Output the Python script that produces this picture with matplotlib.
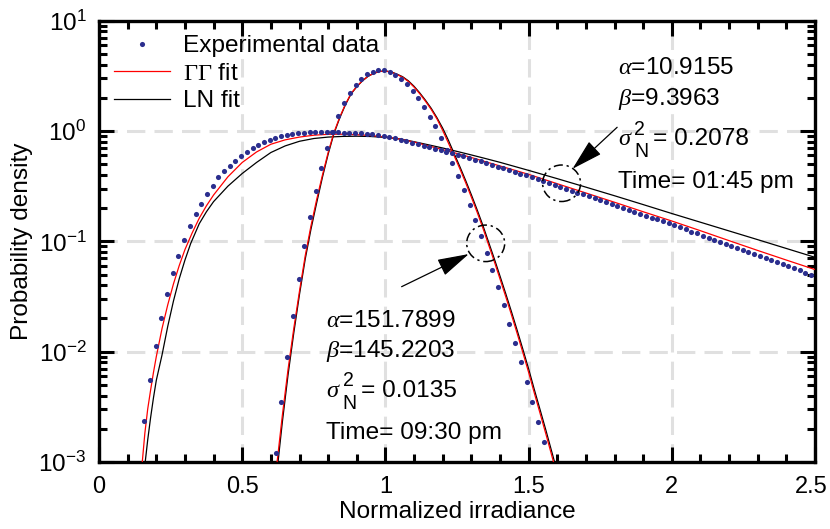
import numpy as np
import matplotlib

matplotlib.use("Agg")
import matplotlib.pyplot as plt
from matplotlib import transforms
from matplotlib.patches import Ellipse
from matplotlib.ticker import FuncFormatter, MultipleLocator, LogLocator

# ---- data (log10 of probability density) ----
BIN_WIDTH = 0.0199

# 01:45 pm measurement (alpha=10.9155, beta=9.3963)
broad_x0 = 0.158
broad_dots_log = [
    -2.63, -2.26, -1.95, -1.695, -1.48, -1.29, -1.13, -0.985, -0.86, -0.755,
    -0.66, -0.575, -0.50, -0.42, -0.365, -0.315, -0.27, -0.225, -0.19, -0.158,
    -0.13, -0.104, -0.082, -0.062, -0.047, -0.035, -0.026, -0.020, -0.015, -0.012,
    -0.010, -0.009, -0.009, -0.011, -0.013, -0.015, -0.017, -0.019, -0.021, -0.024,
    -0.030, -0.037, -0.045, -0.056, -0.067, -0.079, -0.092, -0.106, -0.120, -0.134,
    -0.148, -0.160, -0.172, -0.186, -0.200, -0.215, -0.230, -0.245, -0.261, -0.276,
    -0.291, -0.307, -0.323, -0.339, -0.355, -0.370, -0.386, -0.401, -0.418, -0.436,
    -0.453, -0.471, -0.488, -0.505, -0.523, -0.540, -0.558, -0.575, -0.592, -0.610,
    -0.627, -0.645, -0.662, -0.679, -0.697, -0.714, -0.732, -0.749, -0.766, -0.784,
    -0.801, -0.819, -0.836, -0.855, -0.873, -0.892, -0.911, -0.929, -0.948, -0.966,
    -0.985, -1.004, -1.022, -1.041, -1.060, -1.078, -1.097, -1.115, -1.134, -1.153,
    -1.171, -1.190, -1.208, -1.227, -1.246, -1.264, -1.283, -1.301,
]

broad_gg_x = [0.15, 0.16, 0.17, 0.18, 0.19, 0.20, 0.22, 0.24, 0.26, 0.28, 0.30,
              0.325, 0.35, 0.375, 0.40, 0.45, 0.50, 0.55, 0.60, 0.65, 0.70, 0.75, 0.80, 0.85,
              0.90, 0.95, 1.00, 1.05, 1.10, 1.15, 1.20, 1.25, 1.30, 1.35, 1.40,
              1.50, 1.60, 1.70, 1.80, 1.90, 2.00, 2.10, 2.20, 2.30, 2.40, 2.50]
broad_gg_log = [-3.03, -2.74, -2.52, -2.35, -2.19, -2.045, -1.79, -1.575, -1.385, -1.22, -1.075,
                -0.925, -0.79, -0.678, -0.58, -0.415, -0.285, -0.190, -0.120, -0.080, -0.055, -0.038,
                -0.030, -0.029,
                -0.033, -0.041, -0.054, -0.073, -0.100, -0.135, -0.169, -0.204, -0.240, -0.279, -0.317,
                -0.393, -0.478, -0.562, -0.646, -0.732, -0.816, -0.904, -0.994, -1.083, -1.170, -1.256]

broad_ln_x = [0.16, 0.17, 0.18, 0.19, 0.20, 0.22, 0.24, 0.26, 0.28, 0.30, 0.32,
              0.35, 0.375, 0.40, 0.45, 0.50, 0.55, 0.60, 0.65, 0.70, 0.75, 0.80, 0.85,
              0.90, 0.95, 1.00, 1.05, 1.10, 1.15, 1.20, 1.25, 1.30, 1.35, 1.40,
              1.50, 1.60, 1.70, 1.80, 1.90, 2.00, 2.10, 2.20, 2.30, 2.40, 2.50]
broad_ln_log = [-3.03, -2.80, -2.60, -2.42, -2.26, -2.03, -1.77, -1.54, -1.34, -1.17, -1.02,
                -0.84, -0.732, -0.64, -0.50, -0.385, -0.285, -0.195, -0.135, -0.093, -0.068, -0.055,
                -0.049,
                -0.047, -0.050, -0.058, -0.072, -0.097, -0.125, -0.154, -0.185, -0.217, -0.250, -0.284,
                -0.357, -0.432, -0.509, -0.587, -0.667, -0.748, -0.827, -0.906, -0.985, -1.065, -1.145]

# 09:30 pm measurement (alpha=151.7899, beta=145.2203)
narrow_x0 = 0.617
narrow_dots_log = [
    -2.92, -2.46, -2.05, -1.675, -1.34, -1.04, -0.78, -0.54, -0.338, -0.154,
    -0.006, 0.136, 0.251, 0.342, 0.417, 0.471, 0.514, 0.538, 0.553, 0.556,
    0.538, 0.511, 0.471, 0.423, 0.363, 0.296, 0.215, 0.130, 0.045, -0.061,
    -0.172, -0.287, -0.410, -0.538, -0.672, -0.807, -0.955, -1.102, -1.260, -1.417,
    -1.580, -1.747, -1.919, -2.094, -2.273, -2.454, -2.636, -2.822,
]

narrow_fit_x = [0.62, 0.64, 0.66, 0.68, 0.70, 0.72, 0.74, 0.76, 0.78, 0.80,
                0.82, 0.84, 0.86, 0.88, 0.90, 0.92, 0.94, 0.96, 0.98, 1.00,
                1.02, 1.04, 1.06, 1.08, 1.10, 1.12, 1.14, 1.16, 1.18, 1.20,
                1.22, 1.24, 1.26, 1.28, 1.30, 1.32, 1.34, 1.36, 1.38, 1.40,
                1.42, 1.44, 1.46, 1.48, 1.50, 1.52, 1.54, 1.56, 1.58, 1.60]
narrow_gg_log = [-3.04, -2.58, -2.16, -1.79, -1.45, -1.13, -0.86, -0.62, -0.40, -0.195,
                 -0.015, 0.122, 0.241, 0.340, 0.404, 0.457, 0.498, 0.524, 0.540, 0.543,
                 0.535, 0.513, 0.487, 0.449, 0.398, 0.337, 0.269, 0.195, 0.109, 0.005,
                 -0.110, -0.225, -0.343, -0.468, -0.599, -0.735, -0.877, -1.030, -1.182, -1.341,
                 -1.501, -1.666, -1.836, -2.010, -2.188, -2.377, -2.560, -2.745, -2.935, -3.13]
narrow_ln_log = [-3.12, -2.64, -2.21, -1.83, -1.48, -1.16, -0.89, -0.65, -0.42, -0.21,
                 -0.025, 0.115, 0.236, 0.336, 0.402, 0.455, 0.497, 0.523, 0.540, 0.544,
                 0.536, 0.516, 0.492, 0.455, 0.405, 0.345, 0.278, 0.205, 0.120, 0.025,
                 -0.085, -0.205, -0.324, -0.448, -0.578, -0.713, -0.854, -1.006, -1.157, -1.315,
                 -1.474, -1.638, -1.807, -1.980, -2.157, -2.345, -2.527, -2.710, -2.90, -3.09]

x_ticks = [0, 0.5, 1, 1.5, 2, 2.5]

day_params = [r"$\mathit{\alpha}$=10.9155", r"$\mathit{\beta}$=9.3963", "= 0.2078", "Time= 01:45 pm"]
night_params = [r"$\mathit{\alpha}$=151.7899", r"$\mathit{\beta}$=145.2203", "= 0.0135", "Time= 09:30 pm"]

DOT_COLOR = "#2b2e8e"
FS = 17.6

plt.rcParams.update({
    "font.family": ["Liberation Sans", "DejaVu Sans"],
    "font.size": FS,
    "mathtext.fontset": "custom",
    "mathtext.rm": "Liberation Serif",
    "mathtext.it": "Liberation Serif:italic",
    "mathtext.sf": "Liberation Sans",
    "mathtext.default": "regular",
})


def param_block(ax, x, baselines, lines):
    ax.text(x, baselines[0], lines[0], ha="left", va="baseline")
    ax.text(x, baselines[1], lines[1], ha="left", va="baseline")
    # sigma^2_N drawn piece by piece so the indices stay large like the original
    y = baselines[2]
    ax.text(x, y, r"$\mathit{\sigma}$", ha="left", va="baseline")
    ax.annotate("2", (x, y), xytext=(12.0, 7.5), textcoords="offset points",
                ha="left", va="baseline", fontsize=FS * 0.8)
    ax.annotate("N", (x, y), xytext=(12.0, -8.8), textcoords="offset points",
                ha="left", va="baseline", fontsize=FS * 0.8)
    ax.annotate(lines[2], (x, y), xytext=(25.5, 0), textcoords="offset points",
                ha="left", va="baseline")
    ax.text(x, baselines[3], lines[3], ha="left", va="baseline")


def main() -> None:
    fig = plt.figure(figsize=(8.3, 5.29), dpi=100)
    ax = fig.add_axes([0.1193, 0.1267, 0.8627, 0.8342])
    ax.set_yscale("log")

    bx = broad_x0 + BIN_WIDTH * np.arange(len(broad_dots_log))
    nx = narrow_x0 + BIN_WIDTH * np.arange(len(narrow_dots_log))

    ax.plot(bx, 10 ** np.array(broad_dots_log), "o", ms=3.7, mew=0, color=DOT_COLOR,
            zorder=4, label="Experimental data")
    ax.plot(broad_gg_x, 10 ** np.array(broad_gg_log), color="red", lw=0.9, zorder=3,
            label=r"$\mathrm{\Gamma\Gamma}$ fit")
    ax.plot(broad_ln_x, 10 ** np.array(broad_ln_log), color="black", lw=0.9, zorder=2,
            label="LN fit")
    ax.plot(nx, 10 ** np.array(narrow_dots_log), "o", ms=3.7, mew=0, color=DOT_COLOR, zorder=4)
    ax.plot(narrow_fit_x, 10 ** np.array(narrow_ln_log), color="black", lw=0.9, zorder=2)
    ax.plot(narrow_fit_x, 10 ** np.array(narrow_gg_log), color="red", lw=0.9, zorder=3)

    ax.set_xlim(0, 2.5)
    ax.set_ylim(1e-3, 1e1)
    ax.set_xticks(x_ticks)
    ax.xaxis.set_minor_locator(MultipleLocator(0.1))
    ax.xaxis.set_major_formatter(FuncFormatter(lambda v, _: f"{v:g}"))
    ax.yaxis.set_major_locator(LogLocator(base=10, numticks=10))
    ax.yaxis.set_minor_locator(LogLocator(base=10, subs=np.arange(2, 10), numticks=20))

    ax.tick_params(which="both", direction="in", top=True, right=True, width=2.2)
    ax.tick_params(which="major", length=11)
    ax.tick_params(axis="x", which="major", pad=10, labelsize=17)
    ax.tick_params(axis="y", which="major", pad=9)
    ax.tick_params(which="minor", length=5.5)
    for sp in ax.spines.values():
        sp.set_linewidth(2.4)

    # keep the last x label inside the canvas
    last = ax.xaxis.get_major_ticks()[-1].label1
    last.set_transform(last.get_transform()
                       + transforms.ScaledTranslation(-3 / 72, 0, fig.dpi_scale_trans))

    ax.set_axisbelow(True)
    ax.grid(True, which="major", color="#e0e0e0", linewidth=2.2, linestyle=(0, (6, 3)))

    ax.set_xlabel("Normalized irradiance", labelpad=2)
    ax.set_ylabel("Probability density", labelpad=4)

    ax.legend(loc="upper left", frameon=False, numpoints=1, handlelength=2.3,
              handletextpad=0.55, labelspacing=0.22, borderaxespad=0.2, borderpad=0.4)

    param_block(ax, 1.811, [3.29, 1.72, 0.746, 0.306], day_params)
    param_block(ax, 0.792, [0.01683, 0.00887, 0.0039, 0.0016], night_params)

    # dash-dot circles around highlighted points
    for cx, cy in [(1.615, 0.336), (1.350, 0.0959)]:
        trans = fig.dpi_scale_trans + transforms.ScaledTranslation(cx, cy, ax.transData)
        ax.add_patch(Ellipse((0, 0), 0.38, 0.365, transform=trans, fill=False,
                             edgecolor="black", lw=1.1, linestyle=(0, (6, 2.5, 1.5, 2.5)),
                             zorder=5))

    arrow_kw = dict(arrowstyle="-|>,head_length=0.9,head_width=0.25", color="black",
                    lw=0.9, mutation_scale=22, shrinkA=0, shrinkB=0)
    ax.annotate("", xy=(1.653, 0.454), xytext=(1.809, 1.081), arrowprops=arrow_kw, zorder=5)
    ax.annotate("", xy=(1.291, 0.0767), xytext=(1.0565, 0.0388), arrowprops=arrow_kw, zorder=5)

    fig.savefig("out.png", dpi=100)
    plt.close(fig)


if __name__ == "__main__":
    main()
